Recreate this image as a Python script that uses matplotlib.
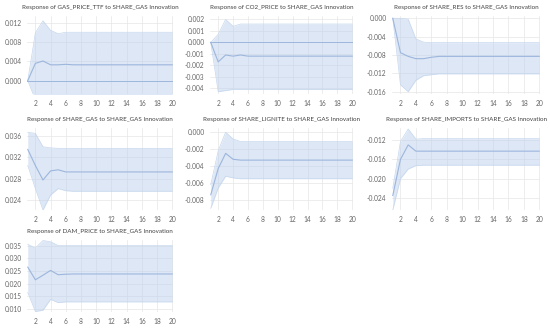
import matplotlib
matplotlib.use("Agg")
import matplotlib.pyplot as plt

periods = list(range(1, 21))

titles = [
    "Response of GAS_PRICE_TTF to SHARE_GAS Innovation",
    "Response of CO2_PRICE to SHARE_GAS Innovation",
    "Response of SHARE_RES to SHARE_GAS Innovation",
    "Response of SHARE_GAS to SHARE_GAS Innovation",
    "Response of SHARE_LIGNITE to SHARE_GAS Innovation",
    "Response of SHARE_IMPORTS to SHARE_GAS Innovation",
    "Response of DAM_PRICE to SHARE_GAS Innovation",
]

gas_price_resp = [0.0, 0.0036, 0.0041, 0.0033, 0.0033, 0.0034] + [0.0033] * 14
gas_price_up = [0.0, 0.0100, 0.0125, 0.0105, 0.0098, 0.0101] + [0.0101] * 14
gas_price_lo = [0.0, -0.0040, -0.0050, -0.0040, -0.0035, -0.0035] + [-0.0035] * 14

co2_resp = [0.0, -0.0017, -0.0011, -0.0012, -0.0011, -0.0012] + [-0.0012] * 14
co2_up = [0.0, 0.0007, 0.0020, 0.0014, 0.0016, 0.0016] + [0.0016] * 14
co2_lo = [0.0, -0.0043, -0.0042, -0.0041, -0.0041, -0.0041] + [-0.0041] * 14

res_resp = [0.0, -0.0075, -0.0083, -0.0088, -0.0088, -0.0085] + [-0.0083] * 14
res_up = [0.0, 0.0000, -0.0002, -0.0045, -0.0052, -0.0053] + [-0.0053] * 14
res_lo = [0.0, -0.0145, -0.0160, -0.0135, -0.0125, -0.0123] + [-0.0121] * 14

gas_resp = [0.0335, 0.0305, 0.0278, 0.0295, 0.0297, 0.0293] + [0.0293] * 14
gas_up = [0.0367, 0.0365, 0.0340, 0.0338, 0.0337, 0.0337] + [0.0337] * 14
gas_lo = [0.0305, 0.0262, 0.0222, 0.0250, 0.0262, 0.0258] + [0.0257] * 14

lig_resp = [-0.0074, -0.0043, -0.0025, -0.0032, -0.0033, -0.0033] + [-0.0033] * 14
lig_up = [-0.0062, -0.0022, 0.0000, -0.0008, -0.0011, -0.0011] + [-0.0011] * 14
lig_lo = [-0.0090, -0.0066, -0.0052, -0.0054, -0.0055, -0.0055] + [-0.0055] * 14

imp_resp = [-0.0235, -0.0160, -0.0130, -0.0143, -0.0143, -0.0143] + [-0.0143] * 14
imp_up = [-0.0220, -0.0123, -0.0097, -0.0118, -0.0117, -0.0117] + [-0.0117] * 14
imp_lo = [-0.0265, -0.0200, -0.0180, -0.0173, -0.0172, -0.0172] + [-0.0172] * 14

dam_resp = [0.0265, 0.0215, 0.0233, 0.0252, 0.0235, 0.0237] + [0.0238] * 14
dam_up = [0.0355, 0.0340, 0.0370, 0.0365, 0.0350, 0.0350] + [0.0350] * 14
dam_lo = [0.0165, 0.0090, 0.0095, 0.0138, 0.0125, 0.0128] + [0.0128] * 14

series = [
    (gas_price_resp, gas_price_up, gas_price_lo),
    (co2_resp, co2_up, co2_lo),
    (res_resp, res_up, res_lo),
    (gas_resp, gas_up, gas_lo),
    (lig_resp, lig_up, lig_lo),
    (imp_resp, imp_up, imp_lo),
    (dam_resp, dam_up, dam_lo),
]

yticks = [
    [0.000, 0.004, 0.008, 0.012],
    [-0.004, -0.003, -0.002, -0.001, 0.000, 0.001, 0.002],
    [-0.016, -0.012, -0.008, -0.004, 0.000],
    [0.024, 0.028, 0.032, 0.036],
    [-0.008, -0.006, -0.004, -0.002, 0.000],
    [-0.024, -0.020, -0.016, -0.012],
    [0.010, 0.015, 0.020, 0.025, 0.030, 0.035],
]
ylims = [
    (-0.0028, 0.0135),
    (-0.0045, 0.0023),
    (-0.0165, 0.0005),
    (0.0222, 0.0375),
    (-0.0092, 0.0005),
    (-0.0265, -0.0095),
    (0.0088, 0.0372),
]
zero_line = [True, True, False, False, False, False, False]

W, H = 550, 335
cols = [(27, 173), (210, 353), (392, 540)]
rows = [(16, 94), (128, 210), (240, 312)]

plt.rcParams['font.family'] = ['Lato', 'DejaVu Sans']

fig = plt.figure(figsize=(5.5, 3.35), dpi=100)
fig.patch.set_facecolor("white")

band_color = "#bcd1ec"
edge_color = "#c6d7ee"
line_color = "#9db6dd"

for i, (resp, up, lo) in enumerate(series):
    r, c = divmod(i, 3)
    x0, x1 = cols[c]
    y0, y1 = rows[r]
    ax = fig.add_axes([x0 / W, 1 - y1 / H, (x1 - x0) / W, (y1 - y0) / H])
    ax.fill_between(periods, lo, up, color=band_color, alpha=0.5, linewidth=0, zorder=1)
    ax.plot(periods, up, color=edge_color, linewidth=0.5, zorder=2)
    ax.plot(periods, lo, color=edge_color, linewidth=0.5, zorder=2)
    if zero_line[i]:
        ax.axhline(0, color=line_color, linewidth=0.7, zorder=3)
    ax.plot(periods, resp, color=line_color, linewidth=0.8, zorder=4)
    ax.set_xlim(0.9, 20.1)
    ax.set_ylim(*ylims[i])
    ax.set_xticks(list(range(2, 21, 2)))
    ax.set_yticks(yticks[i])
    ax.set_yticklabels(["%.3f" % v for v in yticks[i]])
    ax.grid(True, color="#e6e6e6", linewidth=0.5, zorder=0)
    ax.set_axisbelow(True)
    for s in ax.spines.values():
        s.set_visible(False)
    ax.tick_params(length=0, labelsize=4.8, colors="#666666", pad=4)
    ax.set_title(titles[i], fontsize=4.5, color="#444444", pad=5)

fig.savefig("out.png", dpi=100, facecolor="white")
